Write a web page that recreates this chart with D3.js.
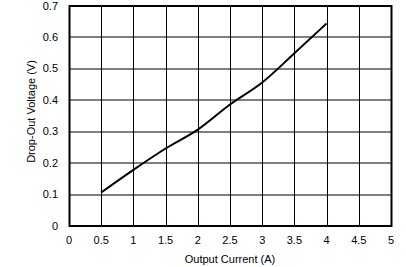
<!DOCTYPE html>
<html>
<head>
<meta charset="utf-8">
<script src="https://cdn.jsdelivr.net/npm/d3@7"></script>
<style>
  body { margin: 0; background: #fff; }
  text { font-family: "Liberation Sans", Arial, sans-serif; font-size: 11px; fill: #000; }
</style>
</head>
<body>
<svg id="chart" width="406" height="267"></svg>
<script>
// output current (A) vs drop-out voltage (V)
const current = [0.5, 1, 1.5, 2, 2.5, 3, 3.5, 4]
const dropout = [0.105, 0.177, 0.245, 0.305, 0.385, 0.455, 0.548, 0.643]
const xTicks = [0, 0.5, 1, 1.5, 2, 2.5, 3, 3.5, 4, 4.5, 5]
const yTicks = [0, 0.1, 0.2, 0.3, 0.4, 0.5, 0.6, 0.7]

const margin = { left: 69, right: 15, top: 5.5, bottom: 41.5 }
const width = 406 - margin.left - margin.right
const height = 267 - margin.top - margin.bottom

const svg = d3.select('#chart')
const g = svg.append('g').attr('transform', `translate(${margin.left},${margin.top})`)

const x = d3.scaleLinear().domain([0, 5]).range([0, width])
const y = d3.scaleLinear().domain([0, 0.7]).range([height, 0])

// grid
g.selectAll('.vgrid').data(xTicks).join('line')
  .attr('x1', d => Math.round(x(d)) + 0.5).attr('x2', d => Math.round(x(d)) + 0.5)
  .attr('y1', 0).attr('y2', height)
  .attr('stroke', '#000').attr('stroke-width', 1)
g.selectAll('.hgrid').data(yTicks).join('line')
  .attr('y1', d => Math.round(y(d)) + 0.5).attr('y2', d => Math.round(y(d)) + 0.5)
  .attr('x1', 0).attr('x2', width)
  .attr('stroke', '#000').attr('stroke-width', 1)

// frame
g.append('rect')
  .attr('x', 0.5).attr('y', 0.5).attr('width', width).attr('height', height)
  .attr('fill', 'none').attr('stroke', '#000').attr('stroke-width', 2)

// tick labels
g.selectAll('.xl').data(xTicks).join('text')
  .attr('x', d => x(d)).attr('y', height + 18)
  .attr('text-anchor', 'middle')
  .text(d => d)
g.selectAll('.yl').data(yTicks).join('text')
  .attr('x', -11).attr('y', d => y(d) + 4)
  .attr('text-anchor', 'end')
  .text(d => d)

// axis titles
g.append('text')
  .attr('x', width / 2).attr('y', height + 37)
  .attr('text-anchor', 'middle')
  .text('Output Current (A)')
g.append('text')
  .attr('transform', `translate(${-34},${height / 2 - 4}) rotate(-90)`)
  .attr('text-anchor', 'middle')
  .text('Drop-Out Voltage (V)')

// data line
const line = d3.line()
  .x((d, i) => x(current[i]))
  .y(d => y(d))
  .curve(d3.curveMonotoneX)
g.append('path')
  .attr('d', line(dropout))
  .attr('fill', 'none').attr('stroke', '#000').attr('stroke-width', 2)
</script>
</body>
</html>
